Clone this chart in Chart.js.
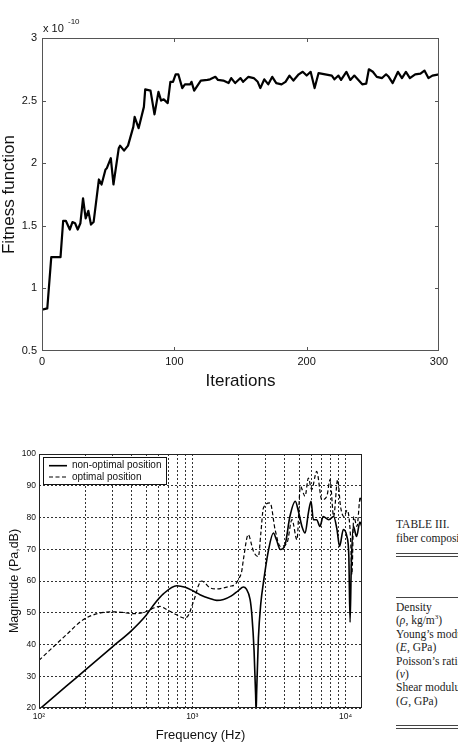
<!DOCTYPE html>
<html><head><meta charset="utf-8">
<script src="https://cdn.jsdelivr.net/npm/chart.js@4.4.0/dist/chart.umd.min.js"></script>
<style>
html,body{margin:0;padding:0;background:#fff;}
body{width:458px;height:746px;position:relative;overflow:hidden;}
canvas{position:absolute;}
#c1{left:0;top:0;}
#c2{left:0;top:420px;}
.t{position:absolute;font-family:"Liberation Sans",Arial,sans-serif;color:#111;white-space:nowrap;}
.tab{position:absolute;left:396px;font-family:"Liberation Serif","Times New Roman",serif;font-size:11.5px;line-height:13.45px;color:#222;white-space:nowrap;}
.rule{position:absolute;left:396px;width:70px;height:1px;background:#444;}
</style></head><body>
<canvas id="c1" width="458" height="420"></canvas>
<canvas id="c2" width="380" height="326"></canvas>
<div class="t" style="left:43px;top:23px;font-size:11px;line-height:11px;">x 10</div>
<div class="t" style="left:68px;top:18px;font-size:8px;line-height:8px;">-10</div>

<div class="tab" style="top:518px;">TABLE III.</div>
<div class="tab" style="top:531.5px;">fiber composite</div>
<div class="rule" style="top:553px;"></div>
<div class="rule" style="top:556px;"></div>
<div class="rule" style="top:597px;"></div>
<div class="tab" style="top:600.7px;">Density<br>(<i>ρ</i>, kg/m<sup style="font-size:7px;line-height:0">3</sup>)<br>Young’s modulus<br>(<i>E</i>, GPa)<br>Poisson’s ratio<br>(<i>ν</i>)<br>Shear modulus<br>(<i>G</i>, GPa)</div>
<div class="rule" style="top:725px;"></div>
<div class="rule" style="top:728px;"></div>

<script>
// ---------- Data: top chart ----------
const iterations = [0,4,7,14,16,18,21,23,25,27,29,31,33,35,37,39,43,45,48,49,52,54,58,59,62,65,69,70,73,77,78,82,85,88,90,92,95,97,99,101,103,106,108,112,113,115,120,125,127,131,133,137,141,143,146,150,152,156,160,163,165,168,171,174,177,181,184,187,190,194,197,200,203,206,209,214,219,221,224,226,230,233,236,242,245,247,250,253,257,260,262,265,269,272,275,278,282,286,289,292,295,300];
const fitness = [0.83,0.84,1.25,1.25,1.54,1.54,1.47,1.53,1.52,1.47,1.52,1.72,1.56,1.62,1.51,1.53,1.87,1.83,1.95,1.96,2.04,1.83,2.12,2.14,2.10,2.14,2.29,2.37,2.28,2.45,2.59,2.58,2.39,2.57,2.50,2.51,2.48,2.65,2.65,2.71,2.71,2.60,2.63,2.63,2.65,2.58,2.66,2.665,2.67,2.69,2.665,2.66,2.64,2.68,2.64,2.68,2.65,2.69,2.68,2.65,2.60,2.67,2.63,2.69,2.64,2.63,2.65,2.70,2.66,2.71,2.73,2.70,2.73,2.60,2.72,2.71,2.70,2.67,2.70,2.665,2.73,2.665,2.70,2.63,2.635,2.75,2.73,2.69,2.68,2.71,2.69,2.64,2.73,2.68,2.73,2.68,2.71,2.715,2.74,2.68,2.70,2.71];
const iterTicks = [0,100,200,300];
const iterTickLabels = ['0','100','200','300'];
const fitTicks = [0.5,1,1.5,2,2.5,3];
const fitTickLabels = ['0.5','1','1.5','2','2.5','3'];

// ---------- Data: bottom chart ----------
const freqSolid = [100,150,200,300,400,500,556,650,791,900,1000,1122,1300,1444,1600,1800,2000,2154,2250,2384,2450,2530,2590,2608,2630,2700,2800,2911,3147,3383,3542,3755,4030,4333,4698,4927,5193,5445,5718,5952,6163,6480,6803,7143,7771,8360,8790,9145,9672,10190,10500,10700,10900,11250,11800,12400,12800];
const magSolid = [19.5,26.8,31.9,39.2,44.3,49.2,52.3,56,58.5,58,57,55.7,54.5,53.9,54.2,55.3,57,58.1,57.5,54.1,49,38,24,19,25,42,53,59.5,69.9,75.1,73,69.9,71.4,80.3,85.1,81.9,77.2,75.1,81.4,85.1,79.3,79.3,77.2,80.3,79.3,80.3,76.2,70.9,76.2,74.1,68,47,65,77.2,74,78.6,77];
const freqDash = [100,151,194,249,304,350,412,503,560,616,680,751,830,895,950,992,1050,1092,1150,1208,1301,1450,1589,1750,1914,2000,2100,2154,2319,2450,2508,2700,2800,2911,3220,3469,3755,4150,4470,4820,5070,5445,5718,6010,6480,7000,7550,7920,8360,8880,9270,9740,10250,10770,11000,11300,11870,12480,12800];
const magDash = [35,43.1,47.8,49.9,50.3,50.1,49.7,50.4,51.5,52,51,49.9,48.8,48.3,49.5,52,55.5,58.3,60,59.4,57.9,57.5,57.8,58.3,59,60.5,63,66.7,74.6,71,69.3,67.7,75,83,84.6,76.2,70.9,72,79.3,73,89.8,86.7,92.4,88.8,94.5,85.6,86.7,91.9,80.3,91.9,83.5,80.3,82.3,74,62,80.3,77.2,86.6,83.5];
const seriesLabels = ['non-optimal position','optimal position'];
const freqTickValues = [100,200,300,400,500,600,700,800,900,1000,2000,3000,4000,5000,6000,7000,8000,9000,10000];
const freqTickLabels = ['10²','','','','','','','','','10³','','','','','','','','','10⁴'];
const magTicks = [20,30,40,50,60,70,80,90,100];
const magTickLabels = ['20','30','40','50','60','70','80','90','100'];

const FONT = '"Liberation Sans", Arial, sans-serif';

const frame = {
  id: 'frame',
  afterDraw(chart, args, o) {
    const {ctx, chartArea: a} = chart;
    ctx.save();
    ctx.setLineDash([]);
    ctx.strokeStyle = o.color || '#333';
    ctx.lineWidth = 1;
    ctx.strokeRect(Math.round(a.left) + 0.5, Math.round(a.top) + 0.5, Math.round(a.right - a.left) - 1, Math.round(a.bottom - a.top) - 1);
    if (o.tickLen) {
      const xs = chart.scales.x, ys = chart.scales.y;
      ctx.beginPath();
      xs.ticks.forEach(t => {
        if (t.value <= xs.min || t.value >= xs.max) return;
        const p = Math.round(xs.getPixelForValue(t.value)) + 0.5;
        ctx.moveTo(p, a.bottom); ctx.lineTo(p, a.bottom - o.tickLen);
        ctx.moveTo(p, a.top); ctx.lineTo(p, a.top + o.tickLen);
      });
      ys.ticks.forEach(t => {
        if (t.value <= ys.min || t.value >= ys.max) return;
        const p = Math.round(ys.getPixelForValue(t.value)) + 0.5;
        ctx.moveTo(a.left, p); ctx.lineTo(a.left + o.tickLen, p);
        ctx.moveTo(a.right, p); ctx.lineTo(a.right - o.tickLen, p);
      });
      ctx.stroke();
    }
    ctx.restore();
  }
};

const boxLegend = {
  id: 'boxLegend',
  afterDatasetsDraw(chart) {
    const {ctx, chartArea: a} = chart;
    const x0 = Math.round(a.left) + 4, y0 = Math.round(a.top) + 3, w = 123, h = 27;
    ctx.save();
    ctx.fillStyle = '#fff';
    ctx.fillRect(x0, y0, w, h);
    ctx.strokeStyle = '#111'; ctx.lineWidth = 1; ctx.setLineDash([]);
    ctx.strokeRect(x0 + 0.5, y0 + 0.5, w, h);
    chart.data.datasets.forEach((ds, i) => {
      const y = y0 + 8.7 + i * 11.3;
      ctx.setLineDash(ds.borderDash || []);
      ctx.lineWidth = ds.borderWidth; ctx.strokeStyle = ds.borderColor;
      ctx.beginPath(); ctx.moveTo(x0 + 6, y); ctx.lineTo(x0 + 24, y); ctx.stroke();
      ctx.setLineDash([]);
      ctx.fillStyle = '#111'; ctx.font = '10px ' + FONT; ctx.textBaseline = 'middle'; ctx.textAlign = 'left';
      ctx.fillText(ds.label, x0 + 29, y);
    });
    ctx.restore();
  }
};

// ---------- Top chart ----------
new Chart(document.getElementById('c1'), {
  type: 'line',
  data: {
    datasets: [{
      data: iterations.map((x, i) => ({x, y: fitness[i]})),
      borderColor: '#000', borderWidth: 2.2, pointRadius: 0, tension: 0,
      borderJoinStyle: 'round', fill: false
    }]
  },
  options: {
    responsive: false, animation: false, devicePixelRatio: 1,
    layout: {padding: {top: 38, right: 19, bottom: 0, left: 0}},
    plugins: {legend: {display: false}, tooltip: {enabled: false}, frame: {color: '#555', tickLen: 4}},
    scales: {
      x: {
        type: 'linear', min: 0, max: 300,
        afterBuildTicks: s => { s.ticks = iterTicks.map(v => ({value: v})); },
        afterFit: s => { s.height = 69; },
        grid: {display: false, drawTicks: false}, border: {display: false},
        ticks: {autoSkip: false, maxRotation: 0, padding: 4, color: '#111', font: {family: FONT, size: 11},
          callback: (v, i) => iterTickLabels[i]},
        title: {display: true, text: 'Iterations', color: '#111', font: {family: FONT, size: 17, lineHeight: 1}, padding: {top: 0, bottom: 30}}
      },
      y: {
        type: 'linear', min: 0.5, max: 3,
        afterBuildTicks: s => { s.ticks = fitTicks.map(v => ({value: v})); },
        afterFit: s => { s.width = 42; },
        grid: {display: false, drawTicks: false}, border: {display: false},
        ticks: {autoSkip: false, padding: 5, color: '#111', font: {family: FONT, size: 11},
          callback: (v, i) => fitTickLabels[i]},
        title: {display: true, text: 'Fitness function', color: '#111', font: {family: FONT, size: 17, lineHeight: 1}, padding: {top: 0.5, bottom: 0}}
      }
    }
  },
  plugins: [frame]
});

// ---------- Bottom chart ----------
new Chart(document.getElementById('c2'), {
  type: 'line',
  data: {
    datasets: [{
      label: seriesLabels[0],
      data: freqSolid.map((x, i) => ({x, y: magSolid[i]})),
      borderColor: '#000', borderWidth: 1.6, pointRadius: 0, cubicInterpolationMode: 'monotone', fill: false
    }, {
      label: seriesLabels[1],
      data: freqDash.map((x, i) => ({x, y: magDash[i]})),
      borderColor: '#000', borderWidth: 1.2, borderDash: [4, 2.5], pointRadius: 0, cubicInterpolationMode: 'monotone', fill: false
    }]
  },
  options: {
    responsive: false, animation: false, devicePixelRatio: 1,
    layout: {padding: {top: 34, right: 18, bottom: 0, left: 0}},
    plugins: {legend: {display: false}, tooltip: {enabled: false}, frame: {color: '#222', tickLen: 0}},
    scales: {
      x: {
        type: 'logarithmic', min: 100, max: 12800,
        afterBuildTicks: s => { s.ticks = freqTickValues.map(v => ({value: v})); },
        afterFit: s => { s.height = 38; },
        grid: {display: true, drawTicks: false, color: '#333', lineWidth: 1},
        border: {display: false, dash: [2, 2]},
        ticks: {autoSkip: false, maxRotation: 0, padding: 4, color: '#111', font: {family: FONT, size: 8.5},
          callback: (v, i) => freqTickLabels[i]},
        title: {display: true, text: 'Frequency (Hz)', color: '#111', font: {family: FONT, size: 13, lineHeight: 1}, padding: {top: 0, bottom: 4.5}}
      },
      y: {
        type: 'linear', min: 20, max: 100,
        afterBuildTicks: s => { s.ticks = magTicks.map(v => ({value: v})); },
        afterFit: s => { s.width = 39; },
        grid: {display: true, drawTicks: false, color: '#333', lineWidth: 1},
        border: {display: false, dash: [2, 2]},
        ticks: {autoSkip: false, padding: 3, color: '#111', font: {family: FONT, size: 8.5},
          callback: (v, i) => magTickLabels[i]},
        title: {display: true, text: 'Magnitude (Pa,dB)', color: '#111', font: {family: FONT, size: 12.5, lineHeight: 1}, padding: {top: 8, bottom: 0}}
      }
    }
  },
  plugins: [boxLegend, frame]
});
</script>
</body></html>
